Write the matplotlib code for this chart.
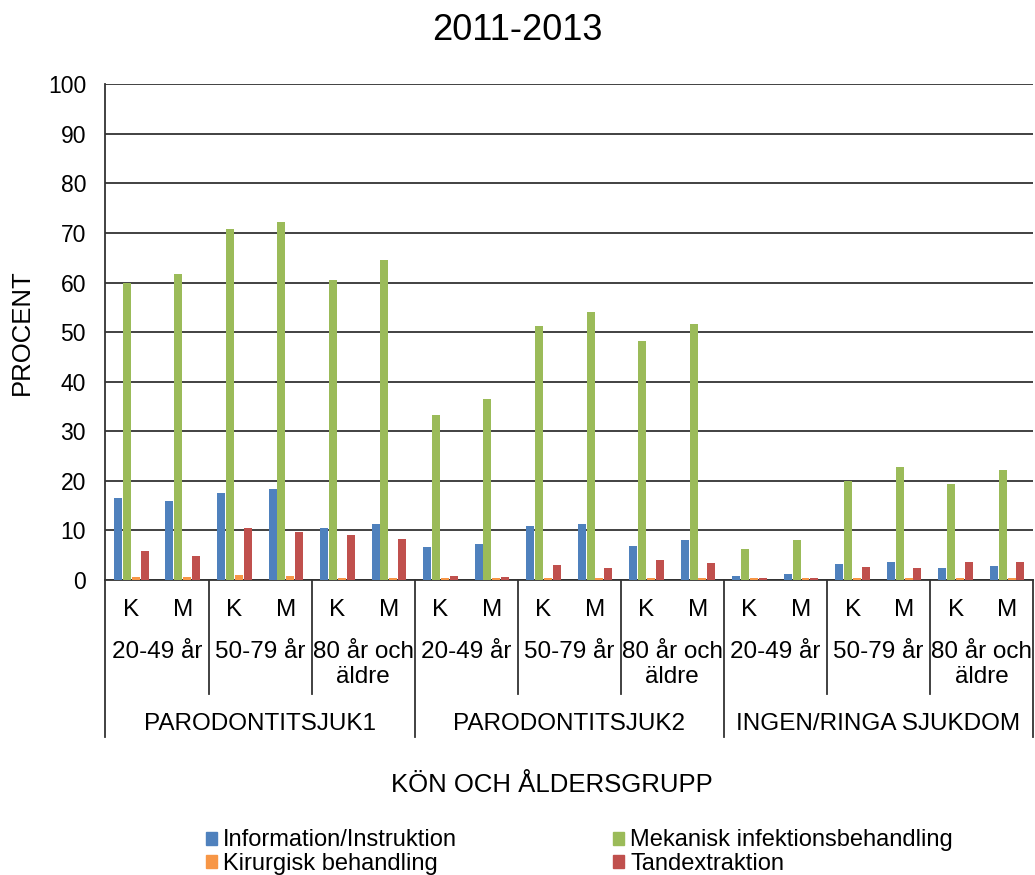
import numpy as np
import matplotlib.pyplot as plt
from matplotlib.transforms import blended_transform_factory
from matplotlib.lines import Line2D

plt.rcParams['font.family'] = ['Liberation Sans', 'DejaVu Sans']

# data (percent), 18 categories: group x age x sex
groups = ['PARODONTITSJUK1', 'PARODONTITSJUK2', 'INGEN/RINGA SJUKDOM']
ages = ['20-49 år', '50-79 år', '80 år och\näldre']
sexes = ['K', 'M']

series_names = ['Information/Instruktion', 'Kirurgisk behandling',
                'Mekanisk infektionsbehandling', 'Tandextraktion']
series_colors = ['#4F81BD', '#F79646', '#9BBB59', '#C0504D']

info = [16.5, 16.0, 17.5, 18.3, 10.5, 11.3,
        6.6, 7.2, 10.8, 11.3, 6.8, 8.1,
        0.9, 1.2, 3.2, 3.7, 2.4, 2.9]
mekanisk = [60.0, 61.7, 70.8, 72.3, 60.6, 64.5,
            33.3, 36.6, 51.2, 54.0, 48.2, 51.6,
            6.3, 8.1, 20.0, 22.7, 19.3, 22.2]
kirurgisk = [0.7, 0.6, 1.1, 0.9, 0.4, 0.4,
             0.4, 0.4, 0.4, 0.4, 0.4, 0.4,
             0.4, 0.4, 0.4, 0.4, 0.4, 0.4]
tandext = [5.8, 4.8, 10.4, 9.7, 9.0, 8.2,
           0.9, 0.6, 3.0, 2.4, 4.0, 3.5,
           0.4, 0.4, 2.7, 2.4, 3.7, 3.7]

# draw order within a category: blue, green, orange, red
bar_order = [info, mekanisk, kirurgisk, tandext]
bar_colors = ['#4F81BD', '#9BBB59', '#F79646', '#C0504D']

fig = plt.figure(figsize=(10.35, 8.75), dpi=100)
ax = fig.add_axes([0.1019, 0.3371, 0.8961, 0.5666])

n = len(info)
x = np.arange(n)
w = 0.172
for j, (vals, col) in enumerate(zip(bar_order, bar_colors)):
    ax.bar(x + (j - 1.5) * w, vals, width=w * 0.9, color=col,
           linewidth=0, zorder=3)

ax.set_xlim(-0.5, n - 0.5)
ax.set_ylim(0, 100)
ax.set_yticks(range(0, 101, 10))
ax.tick_params(axis='y', length=0, labelsize=16.5, pad=14)
ax.set_xticks([])
ax.grid(axis='y', color='#333333', linewidth=1.3, zorder=0)
for s in ['top', 'right']:
    ax.spines[s].set_visible(False)
for s in ['left', 'bottom']:
    ax.spines[s].set_color('#333333')
    ax.spines[s].set_linewidth(1.3)

ax.set_ylabel('PROCENT', fontsize=18.5, labelpad=10)
fig.text(0.4995, 1 - 30 / 875, '2011-2013', ha='center', va='center',
         fontsize=26)

# multi-level category labels
tr = blended_transform_factory(ax.transData, fig.transFigure)
y_axis = 0.3371
y_sex = 1 - 610 / 875
y_age = 1 - 641 / 875
y_grp = 1 - 724 / 875
y_age_line = 1 - 694 / 875
y_grp_line = 1 - 737 / 875

for i in range(n):
    ax.text(i, y_sex, sexes[i % 2], transform=tr, ha='center', va='center',
            fontsize=17.5)
for k in range(9):
    cx = 2 * k + 0.5
    ax.text(cx, y_age, ages[k % 3], transform=tr, ha='center', va='top',
            fontsize=17.5, linespacing=1.2)
for g in range(3):
    cx = 6 * g + 2.5
    ax.text(cx, y_grp, groups[g], transform=tr, ha='center', va='center',
            fontsize=17.5)

for k in range(10):
    xb = 2 * k - 0.5
    y_end = y_grp_line if k % 3 == 0 else y_age_line
    ax.add_line(Line2D([xb, xb], [y_axis, y_end], transform=tr,
                       color='#333333', linewidth=1.3, clip_on=False))

fig.text(552 / 1035, 1 - 785 / 875, 'KÖN OCH ÅLDERSGRUPP', ha='center',
         va='center', fontsize=18.5)

# legend
handles = [plt.Rectangle((0, 0), 1, 1, color=c) for c in series_colors]
fig.legend(handles, series_names, loc='center', ncol=2,
           bbox_to_anchor=(0.5599, 1 - 852 / 875), frameon=False,
           fontsize=17, handlelength=0.47, handleheight=0.47,
           handletextpad=0.25, columnspacing=6.6, labelspacing=0.05,
           borderpad=0)

fig.savefig('out.png', dpi=100)
